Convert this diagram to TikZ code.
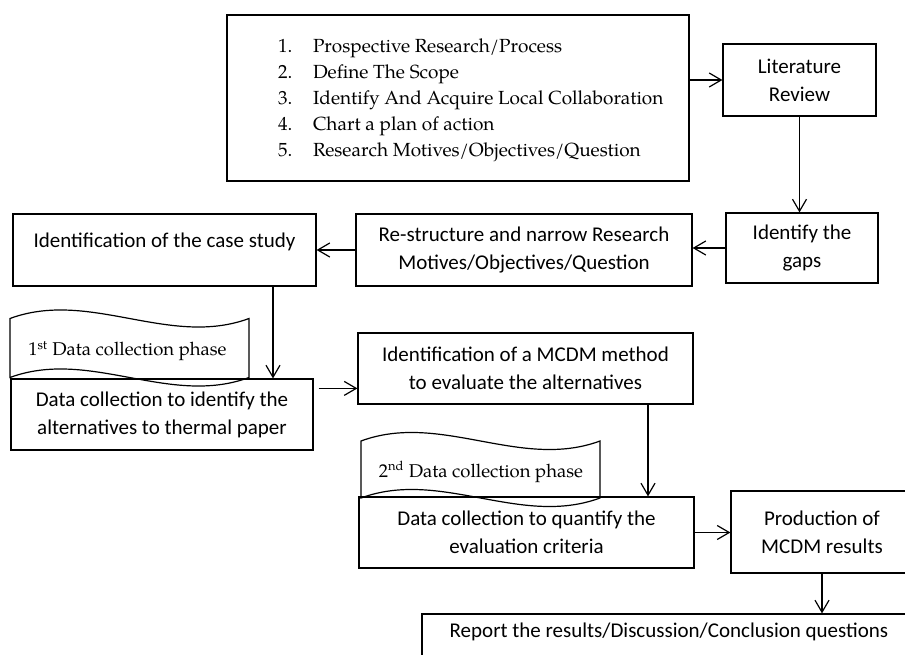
\documentclass[tikz,border=0pt]{standalone}
\usepackage{fontspec}
\usepackage{xcolor}
\usepackage{tikz}
\usetikzlibrary{arrows.meta}
\setmainfont{Carlito}
\newfontfamily\palfont{TeX Gyre Pagella}

\begin{document}
\begin{tikzpicture}[x=1pt, y=-1pt, line width=1.2pt,
  box/.style={draw, inner sep=0pt, align=center, font=\fontsize{21}{28}\selectfont},
  phase/.style={inner sep=0pt, font=\palfont\fontsize{18.5}{22}\selectfont},
  arr/.style={-{Straight Barb[length=12pt, width=14pt]}}]
\useasboundingbox (0,0) rectangle (905,655);
\clip (0,0) rectangle (905,655);

\node[box, minimum width=462pt, minimum height=166pt] (scope) at (458,98) {};
\node[anchor=west, align=left, inner sep=0pt, font=\palfont\fontsize{19}{26}\selectfont] (steps)
  at ([xshift=51pt, yshift=-2pt]scope.west)
  {\makebox[35pt][l]{1.}Prospective Research/Process\\
   \makebox[35pt][l]{2.}Define The Scope\\
   \makebox[35pt][l]{3.}Identify And Acquire Local Collaboration\\
   \makebox[35pt][l]{4.}Chart a plan of action\\
   \makebox[35pt][l]{5.}Research Motives/Objectives/Question};

\node[box, minimum width=153pt, minimum height=72pt] (litrev) at (799.5,80) {Literature\\Review};
\node[box, minimum width=152pt, minimum height=70pt] (gaps) at (802,248) {Identify the\\gaps};
\node[box, minimum width=336pt, minimum height=72pt] (restruct) at (524,250) {Re-structure and narrow Research\\Motives/Objectives/Question};
\node[box, minimum width=303pt, minimum height=72pt, text depth=20pt] (casestudy) at (164.5,250) {Identification of the case study};
\node[box, minimum width=302pt, minimum height=71pt] (datafirst) at (162,414.5) {Data collection to identify the\\alternatives to thermal paper};
\node[box, minimum width=335pt, minimum height=71pt] (mcdm) at (525.5,368.5) {Identification of a MCDM method\\to evaluate the alternatives};
\node[box, minimum width=335pt, minimum height=71pt] (datasecond) at (526.5,532.5) {Data collection to quantify the\\evaluation criteria};
\node[box, minimum width=182pt, minimum height=82pt] (results) at (822,532) {Production of\\MCDM results};
\node[box, minimum width=494pt, minimum height=46pt, text depth=13pt] (report) at (669,637) {Report the results/Discussion/Conclusion questions};

% data collection phases
\draw (10,318.5) .. controls (89.7,289) and (169.3,348) .. (249,318.5) -- (249,377.5)
  .. controls (169.3,407) and (89.7,348) .. (10,377.5) -- cycle;
\node[phase] (phaseone) at (127.5,351) {1\textsuperscript{st} Data collection phase};
\draw (361,441) .. controls (440.7,411.5) and (520.3,470.5) .. (600,441) -- (600,498)
  .. controls (520.3,527.5) and (440.7,468.5) .. (361,498) -- cycle;
\node[phase] (phasetwo) at (481,472) {2\textsuperscript{nd} Data collection phase};

% connectors
\draw[arr] (scope.east |- litrev.west) -- (litrev.west);
\draw[arr] (litrev.south) -- (litrev.south |- gaps.north);
\draw[arr] (gaps.west) -- (gaps.west -| restruct.east);
\draw[arr] (restruct.west) -- (restruct.west -| casestudy.east);
\draw[arr] ([xshift=108.5pt]casestudy.south) -- ([xshift=111pt]datafirst.north);
\coordinate (go) at ([shift={(5pt,-10pt)}]datafirst.north east);
\draw[arr] (go) -- (go -| mcdm.west);
\draw[arr] ([xshift=122.5pt]mcdm.south) -- ([xshift=122.5pt]mcdm.south |- datasecond.north);
\draw[arr] (datasecond.east) -- (datasecond.east -| results.west);
\draw[arr] (results.south) -- (results.south |- report.north);
\end{tikzpicture}
\end{document}
